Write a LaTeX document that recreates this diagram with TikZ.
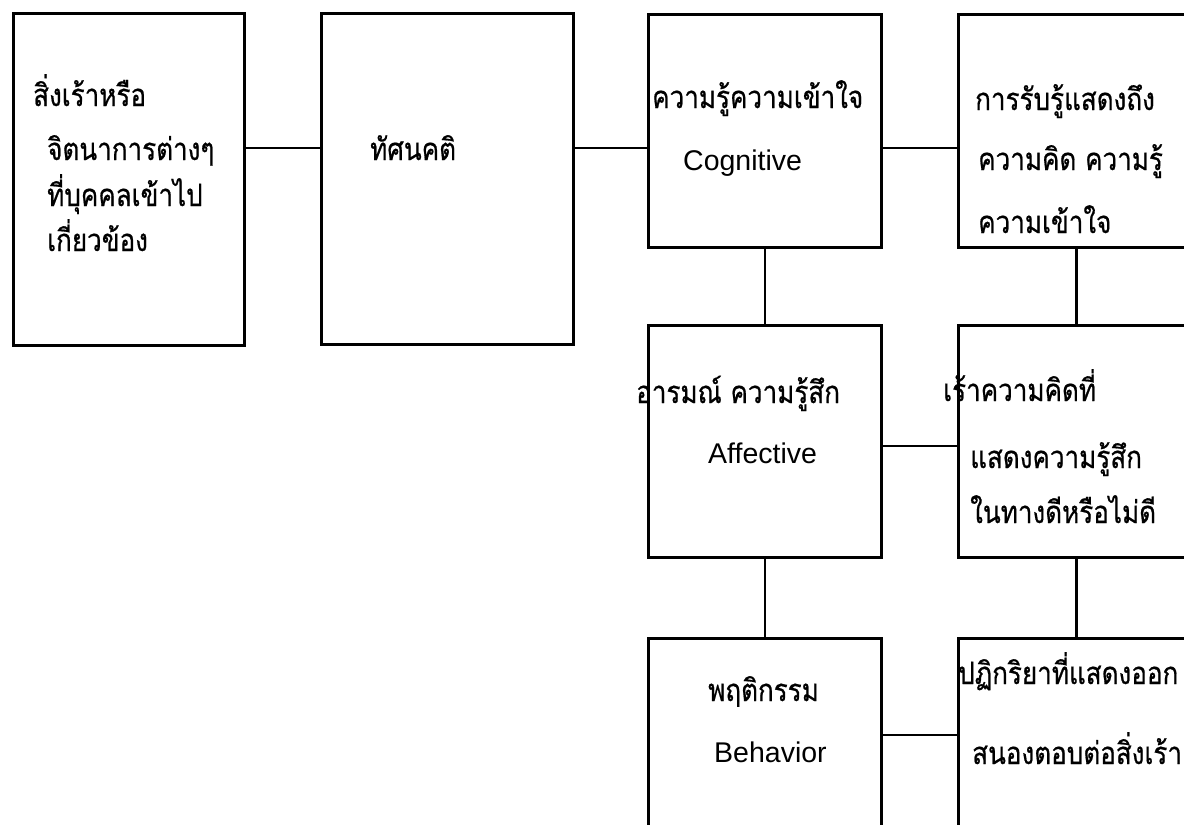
\documentclass[tikz,border=0pt]{standalone}
\usepackage{fontspec}
\setmainfont{Liberation Sans}
\newfontfamily\thaifont[Script=Thai,FakeStretch=0.84,FakeBold=0.6]{Loma}
\begin{document}
\begin{tikzpicture}[x=1pt,y=-1pt,
  box/.style={draw=black, line width=2.8pt, rectangle, anchor=north west, inner sep=0pt},
  conn/.style={draw=black, line width=2.8pt},
  th/.style={anchor=base west, inner sep=0pt, font=\thaifont\fontsize{31}{36}\selectfont},
  en/.style={anchor=base west, inner sep=0pt, font=\fontsize{28.5}{32}\selectfont}]
\useasboundingbox (0,0) rectangle (1184,825);
\clip (0,0) rectangle (1184,825);
% boxes
\node[box, minimum width=231pt, minimum height=332pt] (b1) at (12,12) {};
\node[box, minimum width=252pt, minimum height=331pt] (b2) at (320,12) {};
\node[box, minimum width=233pt, minimum height=233pt] (b3) at (647,13) {};
\node[box, minimum width=236pt, minimum height=233pt] (b4) at (957,13) {};
\node[box, minimum width=233pt, minimum height=232pt] (b5) at (647,324) {};
\node[box, minimum width=236pt, minimum height=232pt] (b6) at (957,324) {};
\node[box, minimum width=233pt, minimum height=220pt] (b7) at (647,637) {};
\node[box, minimum width=236pt, minimum height=220pt] (b8) at (957,637) {};
% connector levels
\coordinate (r1) at (0,148);
\coordinate (r2) at (0,446);
\coordinate (r3) at (0,735);
\draw[conn] (b1.east |- r1) -- (b2.west |- r1);
\draw[conn] (b2.east |- r1) -- (b3.west |- r1);
\draw[conn] (b3.east |- r1) -- (b4.west |- r1);
\draw[conn] (b5.east |- r2) -- (b6.west |- r2);
\draw[conn] (b7.east |- r3) -- (b8.west |- r3);
\draw[conn] (b3.south) -- (b5.north);
\draw[conn] (b5.south) -- (b7.north);
\draw[conn] (b4.south) -- (b6.north);
\draw[conn] (b6.south) -- (b8.north);
% texts
\node[th] (t1a) at (33,106) {สิ่งเร้าหรือ};
\node[th] (t1b) at (47,160) {จิตนาการต่างๆ};
\node[th] (t1c) at (47,206) {ที่บุคคลเข้าไป};
\node[th] (t1d) at (47,251) {เกี่ยวข้อง};
\node[th] (t2) at (370,160) {ทัศนคติ};
\node[th] (t3a) at (652,108) {ความรู้ความเข้าใจ};
\node[en] (t3b) at (683,170) {Cognitive};
\node[th] (t4a) at (975,110) {การรับรู้แสดงถึง};
\node[th] (t4b) at (978,170) {ความคิด ความรู้};
\node[th] (t4c) at (978,233) {ความเข้าใจ};
\node[th] (t5a) at (636,403) {อารมณ์ ความรู้สึก};
\node[en] (t5b) at (708,463) {Affective};
\node[th] (t6a) at (943,401) {เร้าความคิดที่};
\node[th] (t6b) at (970,468) {แสดงความรู้สึก};
\node[th] (t6c) at (970,523) {ในทางดีหรือไม่ดี};
\node[th] (t7a) at (708,701) {พฤติกรรม};
\node[en] (t7b) at (714,762) {Behavior};
\node[th] (t8a) at (958,684) {ปฏิกริยาที่แสดงออก};
\node[th] (t8b) at (972,764) {สนองตอบต่อสิ่งเร้า};
\end{tikzpicture}
\end{document}
